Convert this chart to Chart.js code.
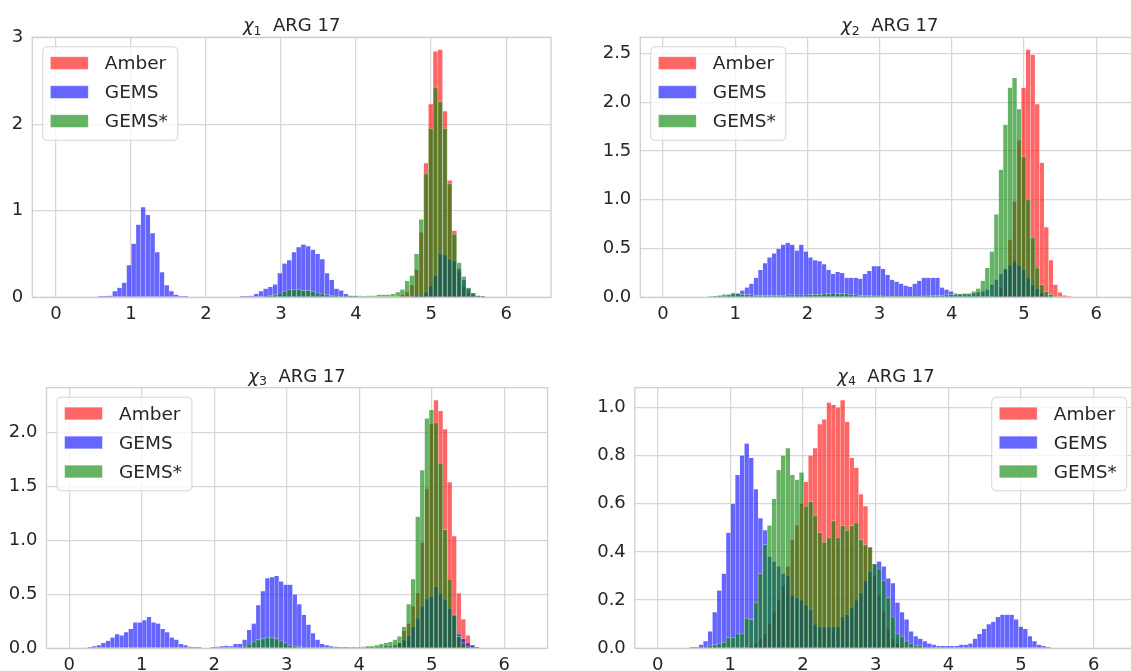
<!DOCTYPE html>
<html>
<head>
<meta charset="utf-8">
<script src="https://cdn.jsdelivr.net/npm/chart.js@4.4.0/dist/chart.umd.min.js"></script>
<style>
  html, body { margin: 0; padding: 0; background: #ffffff; }
  body { position: relative; width: 1131px; height: 671px; overflow: hidden; }
  canvas { position: absolute; }
</style>
</head>
<body>
<canvas id="chi1"></canvas>
<canvas id="chi2"></canvas>
<canvas id="chi3"></canvas>
<canvas id="chi4"></canvas>
<script>
// 100 histogram bins over [0, 2pi]
const binCount = 100;
const binWidth = 2 * Math.PI / binCount;
const binCenters = Array.from({length: binCount}, (_, i) => (i + 0.5) * binWidth);

const xTicks = [0, 1, 2, 3, 4, 5, 6];
const yTicks1 = [0, 1, 2, 3];
const yTicks2 = [0, 0.5, 1.0, 1.5, 2.0, 2.5];
const yTicks3 = [0, 0.5, 1.0, 1.5, 2.0];
const yTicks4 = [0, 0.2, 0.4, 0.6, 0.8, 1.0];

const seriesNames = ['Amber', 'GEMS', 'GEMS*'];

// chi 1
const amber1 = [
  0,0,0,0,0,0,0,0,0,0, 0,0,0,0,0,0,0,0,0,0,
  0,0,0,0,0,0,0,0,0,0, 0,0,0,0,0,0,0,0,0,0,
  0,0,0,0,0,0,0,0,0,0, 0,0,0,0,0,0,0,0,0,0,
  0,0,0,0,0,0,0,0,0,0, 0,0,0,0.03,0.06,0.14,0.32,0.75,1.55,2.23,
  2.84,2.86,2.15,1.35,0.77,0.30,0.12,0.05,0.02,0.01, 0,0,0,0,0,0,0,0,0,0
];
const gems1 = [
  0,0,0,0,0,0,0.005,0.005,0.005,0.01, 0.01,0.02,0.07,0.11,0.17,0.37,0.62,0.84,1.04,0.95,
  0.74,0.52,0.29,0.14,0.07,0.03,0.01,0.01,0.005,0.005, 0.005,0.005,0,0,0.005,0.005,0.005,0.005,0.005,0.01,
  0.015,0.02,0.04,0.07,0.10,0.12,0.15,0.28,0.39,0.43, 0.52,0.58,0.61,0.59,0.55,0.50,0.44,0.28,0.20,0.10,
  0.08,0.04,0.02,0.01,0.005,0.005,0,0,0,0, 0,0,0,0,0,0.005,0.01,0.02,0.06,0.13,
  0.25,0.50,0.49,0.44,0.42,0.33,0.20,0.10,0.05,0.02, 0.01,0.005,0,0,0,0,0,0,0,0
];
const gemsStar1 = [
  0,0,0,0,0,0,0,0,0,0, 0,0,0,0,0,0,0,0,0,0,
  0,0,0,0,0,0,0,0,0,0, 0,0,0,0,0,0,0,0,0,0,
  0,0,0,0,0.01,0.02,0.03,0.05,0.07,0.09, 0.09,0.09,0.08,0.08,0.07,0.05,0.04,0.03,0.02,0.01,
  0.01,0.01,0.01,0.02,0.02,0.015,0.02,0.02,0.03,0.03, 0.03,0.04,0.06,0.09,0.19,0.25,0.50,0.90,1.43,1.95,
  2.42,2.26,1.95,1.31,0.73,0.40,0.24,0.11,0.05,0.02, 0.01,0,0,0,0,0,0,0,0,0
];

// chi 2
const amber2 = [
  0,0,0,0,0,0,0,0,0,0, 0,0,0,0,0,0,0,0,0,0,
  0,0,0,0,0,0,0,0,0,0, 0,0,0,0,0,0,0,0,0,0,
  0,0,0,0,0,0,0,0,0,0, 0,0,0,0,0,0,0,0,0,0,
  0,0,0,0,0,0,0,0,0,0, 0,0,0,0.02,0.10,0.28,0.59,0.98,1.61,2.15,
  2.54,2.49,1.98,1.38,0.72,0.38,0.13,0.05,0.02,0.01, 0,0,0,0,0,0,0,0,0,0
];
const gems2 = [
  0,0,0,0,0,0,0,0,0,0, 0.005,0.01,0.01,0.01,0.02,0.03,0.04,0.07,0.10,0.14,
  0.20,0.28,0.35,0.41,0.45,0.50,0.54,0.56,0.54,0.48, 0.54,0.47,0.41,0.38,0.37,0.34,0.28,0.24,0.26,0.25,
  0.20,0.20,0.20,0.19,0.24,0.27,0.32,0.32,0.29,0.23, 0.18,0.16,0.14,0.12,0.11,0.14,0.17,0.20,0.20,0.20,
  0.20,0.10,0.08,0.06,0.04,0.03,0.03,0.03,0.04,0.05, 0.06,0.08,0.13,0.18,0.24,0.29,0.33,0.37,0.33,0.28,
  0.20,0.13,0.09,0.05,0.02,0.01,0,0,0,0, 0,0,0,0,0,0,0,0,0,0
];
const gemsStar2 = [
  0,0,0,0,0,0,0,0,0,0.005, 0.01,0.015,0.02,0.03,0.03,0.045,0.04,0.03,0.03,0.025,
  0.02,0.02,0.02,0.02,0.02,0.02,0.02,0.025,0.025,0.025, 0.025,0.025,0.03,0.03,0.03,0.035,0.04,0.045,0.04,0.04,
  0.035,0.03,0.025,0.02,0.02,0.02,0.015,0.015,0.015,0.01, 0.01,0.01,0.01,0.01,0.01,0.01,0.01,0.015,0.015,0.02,
  0.02,0.02,0.025,0.03,0.03,0.035,0.04,0.04,0.06,0.09, 0.17,0.30,0.47,0.85,1.31,1.77,2.15,2.25,1.93,1.44,
  1.00,0.61,0.30,0.13,0.06,0.03,0.01,0,0,0, 0,0,0,0,0,0,0,0,0,0
];

// chi 3
const amber3 = [
  0,0,0,0,0,0,0,0,0,0, 0,0,0,0,0,0,0,0,0,0,
  0,0,0,0,0,0,0,0,0,0, 0,0,0,0,0,0,0,0,0,0,
  0,0,0,0,0,0,0,0,0,0, 0,0,0,0,0,0,0,0,0,0,
  0,0,0,0,0,0,0,0,0,0, 0,0,0.05,0.16,0.23,0.39,0.51,0.98,1.48,2.08,
  2.30,2.20,2.03,1.54,1.04,0.51,0.27,0.12,0.03,0.01, 0,0,0,0,0,0,0,0,0,0
];
const gems3 = [
  0,0,0.005,0.005,0.01,0.02,0.03,0.05,0.07,0.10, 0.13,0.12,0.15,0.18,0.24,0.24,0.26,0.29,0.24,0.23,
  0.18,0.15,0.10,0.08,0.04,0.03,0.015,0.01,0.01,0.005, 0.005,0.01,0.015,0.02,0.025,0.02,0.04,0.04,0.08,0.17,
  0.23,0.40,0.53,0.65,0.66,0.67,0.62,0.59,0.59,0.50, 0.41,0.31,0.22,0.14,0.08,0.04,0.03,0.02,0.015,0.01,
  0.01,0.005,0.005,0.005,0.005,0.01,0.01,0.01,0.015,0.02, 0.02,0.03,0.05,0.08,0.12,0.20,0.28,0.39,0.46,0.48,
  0.57,0.51,0.45,0.37,0.30,0.13,0.09,0.05,0.03,0.01, 0.005,0,0,0,0,0,0,0,0,0
];
const gemsStar3 = [
  0,0,0,0,0,0,0,0,0,0, 0,0,0,0,0,0,0,0,0,0,
  0,0,0,0,0,0,0,0,0,0, 0,0,0,0,0,0,0,0.01,0.02,0.04,
  0.06,0.08,0.09,0.10,0.10,0.09,0.07,0.05,0.03,0.02, 0.015,0.01,0.01,0.005,0.005,0.005,0.005,0.005,0.005,0.005,
  0.005,0.01,0.01,0.01,0.015,0.02,0.02,0.03,0.04,0.05, 0.06,0.08,0.11,0.20,0.41,0.64,1.22,1.65,2.13,2.21,
  2.09,1.71,1.10,0.64,0.31,0.11,0.05,0.02,0.01,0, 0,0,0,0,0,0,0,0,0,0
];

// chi 4
const amber4 = [
  0,0,0,0,0,0,0,0,0,0, 0,0,0,0,0,0,0,0,0,0,
  0.01,0.02,0.04,0.06,0.10,0.15,0.20,0.26,0.34,0.45, 0.51,0.60,0.69,0.80,0.83,0.93,0.95,1.02,1.01,1.00,
  1.03,0.94,0.79,0.75,0.64,0.59,0.42,0.30,0.22,0.15, 0.08,0.04,0.02,0.01,0,0,0,0,0,0,
  0,0,0,0,0,0,0,0,0,0, 0,0,0,0,0,0,0,0,0,0,
  0,0,0,0,0,0,0,0,0,0, 0,0,0,0,0,0,0,0,0,0
];
const gems4 = [
  0,0,0,0,0,0,0,0.005,0.005,0.015, 0.03,0.07,0.15,0.24,0.31,0.48,0.60,0.72,0.80,0.85,
  0.79,0.66,0.54,0.49,0.38,0.36,0.34,0.31,0.30,0.22, 0.21,0.20,0.18,0.16,0.10,0.09,0.09,0.09,0.09,0.09,
  0.13,0.14,0.17,0.20,0.23,0.28,0.32,0.35,0.36,0.34, 0.29,0.27,0.19,0.15,0.12,0.07,0.05,0.04,0.03,0.02,
  0.015,0.01,0.01,0.01,0.01,0.01,0.015,0.015,0.02,0.04, 0.06,0.08,0.10,0.11,0.13,0.14,0.14,0.14,0.12,0.09,
  0.08,0.05,0.03,0.015,0.01,0.005,0,0,0,0, 0,0,0,0,0,0,0,0,0,0
];
const gemsStar4 = [
  0,0,0,0,0,0,0,0,0,0.005, 0.005,0.01,0.015,0.02,0.025,0.045,0.045,0.06,0.06,0.125,
  0.12,0.19,0.31,0.43,0.51,0.62,0.74,0.80,0.83,0.72, 0.70,0.73,0.59,0.61,0.55,0.48,0.44,0.46,0.53,0.46,
  0.51,0.49,0.51,0.52,0.45,0.43,0.42,0.35,0.33,0.28, 0.21,0.13,0.06,0.05,0.03,0.02,0.01,0.01,0.005,0.005,
  0,0,0,0,0,0,0,0,0,0, 0,0,0,0,0,0,0,0,0,0,
  0,0,0,0,0,0,0,0,0,0, 0,0,0,0,0,0,0,0,0,0
];

const fontFamily = '"DejaVu Sans", sans-serif';
const textColor = '#262626';
const gridColor = '#d7d7d7';
const seriesColors = ['rgba(255,0,0,0.6)', 'rgba(0,0,255,0.6)', 'rgba(0,128,0,0.6)'];
const edgeColor = 'rgba(255,255,255,0.6)';

function roundedRect(ctx, x, y, w, h, r) {
  ctx.beginPath();
  ctx.moveTo(x + r, y);
  ctx.arcTo(x + w, y, x + w, y + h, r);
  ctx.arcTo(x + w, y + h, x, y + h, r);
  ctx.arcTo(x, y + h, x, y, r);
  ctx.arcTo(x, y, x + w, y, r);
  ctx.closePath();
}

// frame, title and the boxed legend inside the axes
const panelDecor = {
  id: 'panelDecor',
  afterDraw(chart, args, opts) {
    const {ctx, chartArea: a} = chart;
    ctx.save();

    ctx.strokeStyle = '#cdcdcd';
    ctx.lineWidth = 1.25;
    ctx.strokeRect(a.left, a.top, a.right - a.left, a.bottom - a.top);

    // title: italic chi with subscript, then the residue name
    ctx.fillStyle = textColor;
    ctx.textAlign = 'left';
    ctx.textBaseline = 'alphabetic';
    const mainFont = '18px ' + fontFamily;
    const chiFont = 'italic 18px ' + fontFamily;
    const subFont = '12.5px ' + fontFamily;
    const rest = '  ' + opts.residue;
    ctx.font = chiFont; const wChi = ctx.measureText('χ').width;
    ctx.font = subFont; const wSub = ctx.measureText(opts.sub).width;
    ctx.font = mainFont; const wRest = ctx.measureText(rest).width;
    let tx = (a.left + a.right) / 2 - (wChi + wSub + wRest) / 2;
    const ty = a.top - 6;
    ctx.font = chiFont; ctx.fillText('χ', tx, ty); tx += wChi;
    ctx.font = subFont; ctx.fillText(opts.sub, tx, ty + 3.3); tx += wSub;
    ctx.font = mainFont; ctx.fillText(rest, tx, ty);

    // legend
    const items = chart.data.datasets;
    ctx.font = '18.5px ' + fontFamily;
    const textW = Math.max(...items.map(d => ctx.measureText(d.label).width));
    const boxW = 62 + textW + 10;
    const boxH = 93.5;
    const bx = opts.legendSide === 'right' ? a.right - 10.5 - boxW : a.left + 10.5;
    const by = a.top + 9.5;
    roundedRect(ctx, bx, by, boxW, boxH, 4);
    ctx.fillStyle = 'rgba(255,255,255,0.8)';
    ctx.fill();
    ctx.strokeStyle = 'rgba(204,204,204,0.8)';
    ctx.lineWidth = 1;
    ctx.stroke();
    items.forEach((d, i) => {
      const cy = by + 16.3 + i * 29;
      ctx.fillStyle = d.backgroundColor;
      ctx.fillRect(bx + 7.5, cy - 6.4, 38, 12.8);
      ctx.strokeStyle = edgeColor;
      ctx.lineWidth = 0.8;
      ctx.strokeRect(bx + 7.5, cy - 6.4, 38, 12.8);
      ctx.fillStyle = textColor;
      ctx.fillText(d.label, bx + 62, cy + 6.3);
    });

    ctx.restore();
  }
};

function toPoints(values) {
  return values.map((v, i) => ({x: binCenters[i], y: v}));
}

function drawPanel(p) {
  const canvas = document.getElementById(p.id);
  canvas.width = p.box.width;
  canvas.height = p.box.height;
  canvas.style.left = p.box.left + 'px';
  canvas.style.top = p.box.top + 'px';
  canvas.style.width = p.box.width + 'px';
  canvas.style.height = p.box.height + 'px';

  const series = [p.amber, p.gems, p.gemsStar];
  const yMax = Math.max(...series.map(s => Math.max(...s))) * 1.05;
  const tickFont = {family: fontFamily, size: 18};

  const datasets = series.map((values, i) => ({
    label: seriesNames[i],
    data: toPoints(values),
    backgroundColor: seriesColors[i],
    borderColor: edgeColor,
    borderWidth: {top: 0.4, left: 0.4, right: 0.4, bottom: 0},
    barPercentage: 1,
    categoryPercentage: 1,
    grouped: false,
    order: 3 - i
  }));

  new Chart(canvas, {
    type: 'bar',
    data: {datasets: datasets},
    options: {
      responsive: false,
      animation: false,
      devicePixelRatio: 1,
      layout: {
        padding: {
          left: 0,
          top: p.area.top - p.box.top,
          right: p.box.left + p.box.width - p.area.right,
          bottom: 0
        }
      },
      plugins: {
        legend: {display: false},
        tooltip: {enabled: false},
        panelDecor: {sub: p.sub, residue: 'ARG 17', legendSide: p.legendSide}
      },
      scales: {
        x: {
          type: 'linear',
          min: -0.05 * 2 * Math.PI,
          max: 1.05 * 2 * Math.PI,
          offset: false,
          grid: {color: gridColor, lineWidth: 1.25, drawTicks: false, offset: false},
          border: {display: false},
          ticks: {font: tickFont, color: textColor, padding: 6, maxRotation: 0, autoSkip: false},
          afterBuildTicks: s => { s.ticks = xTicks.map(v => ({value: v})); },
          afterFit: s => { s.height = p.box.top + p.box.height - p.area.bottom; }
        },
        y: {
          min: 0,
          max: yMax,
          grid: {color: gridColor, lineWidth: 1.25, drawTicks: false},
          border: {display: false},
          ticks: {
            font: tickFont, color: textColor, padding: 9, autoSkip: false,
            callback: v => v.toFixed(p.decimals)
          },
          afterBuildTicks: s => { s.ticks = p.yTicks.map(v => ({value: v})); },
          afterFit: s => { s.width = p.area.left - p.box.left; }
        }
      }
    },
    plugins: [panelDecor]
  });
}

const panels = [
  {id: 'chi1', sub: '1', amber: amber1, gems: gems1, gemsStar: gemsStar1,
   yTicks: yTicks1, decimals: 0, legendSide: 'left',
   box: {left: 0, top: 0, width: 560, height: 335},
   area: {left: 32.3, top: 37.3, right: 551, bottom: 297.3}},
  {id: 'chi2', sub: '2', amber: amber2, gems: gems2, gemsStar: gemsStar2,
   yTicks: yTicks2, decimals: 1, legendSide: 'left',
   box: {left: 600, top: 0, width: 545, height: 335},
   area: {left: 640.3, top: 37.3, right: 1139.3, bottom: 297.3}},
  {id: 'chi3', sub: '3', amber: amber3, gems: gems3, gemsStar: gemsStar3,
   yTicks: yTicks3, decimals: 1, legendSide: 'left',
   box: {left: 0, top: 340, width: 560, height: 345},
   area: {left: 46.5, top: 387.7, right: 547.6, bottom: 648.3}},
  {id: 'chi4', sub: '4', amber: amber4, gems: gems4, gemsStar: gemsStar4,
   yTicks: yTicks4, decimals: 1, legendSide: 'right',
   box: {left: 590, top: 340, width: 555, height: 345},
   area: {left: 634.8, top: 387.7, right: 1137.2, bottom: 648.3}}
];

panels.forEach(drawPanel);
</script>
</body>
</html>
